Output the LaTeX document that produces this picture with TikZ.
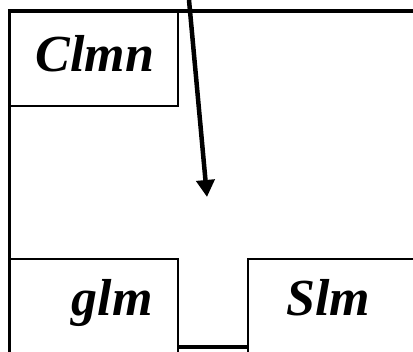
\documentclass[tikz,border=0pt]{standalone}
\usepackage{fontspec}
\setmainfont{Liberation Serif}
\usetikzlibrary{arrows.meta}
\begin{document}
\begin{tikzpicture}[x=1pt,y=1pt,
  thinline/.style={line width=1.5pt},
  thickline/.style={line width=3.5pt},
  lbl/.style={anchor=base,inner sep=0pt,font=\fontsize{52}{60}\selectfont\bfseries\itshape}]
\useasboundingbox (0,0) rectangle (413,352);
% outer frame
\draw[thickline] (7.75,341) -- (413,341);
\draw[thickline] (9.5,341) -- (9.5,0);
% Clmn box
\draw[thinline] (9.5,246) -- (178,246) -- (178,341);
% glm box
\draw[thinline] (9.5,93) -- (178,93) -- (178,0);
% Slm box
\draw[thinline] (413,93) -- (248,93) -- (248,0);
% bottom joining line
\draw[thickline] (178,5) -- (248,5);
% labels
\node[lbl] (clmn) at (95,280) {Clmn};
\node[lbl] (glm) at (112,36) {glm};
\node[lbl] (slm) at (328,36) {Slm};
% arrow
\coordinate (from) at (189,352);
\coordinate (to) at (207,155);
\draw[line width=4.5pt,-{Triangle[length=17pt,width=18pt]}] (from) -- (to);
\end{tikzpicture}
\end{document}
